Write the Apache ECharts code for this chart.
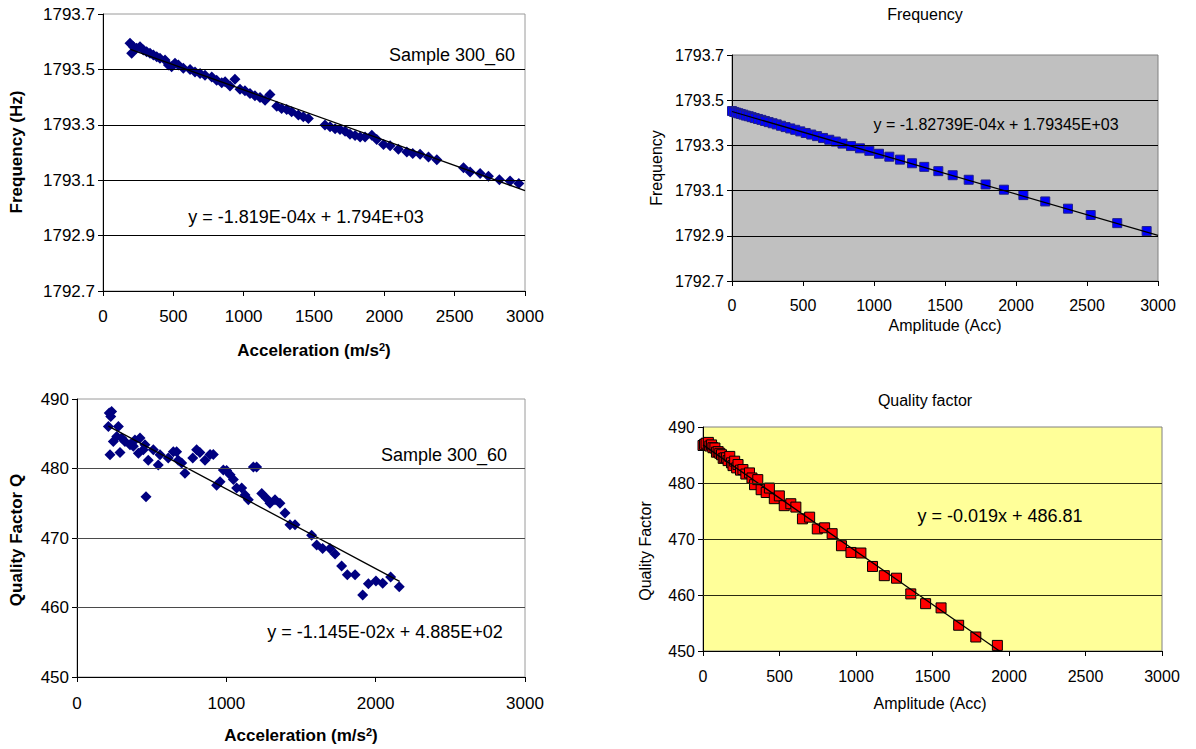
<!DOCTYPE html>
<html><head><meta charset="utf-8">
<script src="https://cdn.jsdelivr.net/npm/echarts@6/dist/echarts.min.js"></script>
<style>html,body{margin:0;padding:0;background:#fff}#c{width:1196px;height:749px}</style>
</head><body><div id="c"></div><script>
// ---------- Data ----------
// Panel 1: Frequency vs acceleration (Sample 300_60)
const p1X = [192,204,216,239,263,287,310,334,358,382,405,441,465,488,512,536,571,619,654,690,725,773,808,844,868,903,938,974,1009,1045,1080,1116,1152,1187,1235,1270,1306,1341,1389,1424,1460,1578,1614,1650,1685,1721,1756,1792,1828,1863,1911,1946,1994,2041,2100,2160,2202,2254,2314,2373,2563,2610,2681,2740,2818,2894,2956];
const p1Y = [1793.594,1793.558,1793.582,1793.576,1793.582,1793.570,1793.564,1793.558,1793.552,1793.546,1793.540,1793.534,1793.516,1793.510,1793.522,1793.516,1793.504,1793.500,1793.491,1793.485,1793.479,1793.473,1793.461,1793.452,1793.455,1793.440,1793.464,1793.428,1793.423,1793.413,1793.405,1793.399,1793.389,1793.409,1793.367,1793.359,1793.355,1793.347,1793.335,1793.329,1793.323,1793.299,1793.293,1793.286,1793.283,1793.277,1793.266,1793.261,1793.256,1793.256,1793.262,1793.247,1793.229,1793.224,1793.212,1793.202,1793.196,1793.194,1793.184,1793.174,1793.145,1793.130,1793.124,1793.114,1793.102,1793.097,1793.088];
const p1Trend = {slope: -1.819e-4, intercept: 1793.608, from: 195, to: 3000};

// Panel 2: Frequency vs amplitude (model)
const p2X = [0,15,30,46,62,80,98,118,138,160,183,207,232,258,286,315,345,377,410,445,481,519,558,599,641,685,731,778,838,901,967,1035,1108,1183,1268,1354,1453,1554,1667,1786,1915,2052,2206,2366,2526,2713,2920];
const p2Y = [1793.452,1793.448,1793.445,1793.442,1793.439,1793.436,1793.432,1793.429,1793.425,1793.421,1793.417,1793.413,1793.408,1793.403,1793.398,1793.393,1793.387,1793.381,1793.375,1793.369,1793.362,1793.355,1793.348,1793.341,1793.333,1793.325,1793.317,1793.308,1793.297,1793.287,1793.276,1793.263,1793.250,1793.237,1793.221,1793.205,1793.186,1793.168,1793.148,1793.127,1793.104,1793.080,1793.052,1793.020,1792.992,1792.956,1792.921];
const p2Trend = {slope: -1.82739e-4, intercept: 1793.45, from: 0, to: 3000};

// Panel 3: Quality factor vs acceleration (Sample 300_60)
const p3X = [210,216,221,226,232,243,266,277,288,299,321,355,377,388,411,422,444,455,462,477,511,544,556,611,645,667,678,701,723,775,801,823,857,891,913,935,958,980,1002,1025,1047,1069,1103,1125,1147,1181,1203,1237,1270,1292,1326,1359,1393,1426,1460,1571,1605,1645,1694,1728,1772,1810,1862,1913,1951,2002,2047,2100,2158];
const p3Y = [486.05,487.98,481.97,487.5,488.2,483.9,484.6,486.05,482.3,484.4,483.9,483.4,483.2,484.1,482.2,484.4,482.7,483.4,475.95,481.2,482.7,480.5,481.97,481.5,482.4,482.4,481.2,480.8,479.3,481.5,482.7,482.3,481.2,482.0,482.0,477.6,478.1,479.8,479.7,479.1,478.4,477.2,477.2,476.2,475.5,480.2,480.2,476.4,475.7,475.0,475.5,475.0,473.6,471.9,471.9,470.4,469.0,468.5,468.5,467.7,465.96,464.7,464.7,461.8,463.4,463.8,463.5,464.4,463.0];
const p3Trend = {slope: -1.145e-2, intercept: 488.5, from: 210, to: 2160};

// Panel 4: Quality factor vs amplitude (model)
const p4X = [0,10,20,35,45,56,65,78,88,99,110,121,132,143,154,164,175,186,196,207,220,229,245,261,280,304,320,337,358,380,413,434,466,499,531,574,607,650,697,747,795,844,905,967,1032,1108,1185,1265,1358,1455,1556,1671,1783,1924];
const p4Y = [486.7,486.9,487.1,487.25,486.6,486.8,486.3,486.25,485.5,485.6,485.3,485.05,484.4,484.5,484.5,484.0,484.75,483.6,483.1,483.9,482.7,483.3,482.3,482.4,481.6,481.8,480.9,479.7,480.6,478.8,478.3,479.1,477.2,477.7,475.95,476.3,475.7,473.6,473.9,471.8,472.0,470.95,468.8,467.6,467.5,465.1,463.45,463.0,460.2,458.45,457.7,454.6,452.5,451.0];
const p4Trend = {slope: -0.019, intercept: 486.81, from: 0, to: 1940};

// Tick labels / grid values
const freqTicks = [1792.7, 1792.9, 1793.1, 1793.3, 1793.5, 1793.7];
const freqGrid = [1792.9, 1793.1, 1793.3, 1793.5];
const qGrid = [460, 470, 480];

// Texts
const sampleLabel = 'Sample 300_60';
const eq1 = 'y = -1.819E-04x + 1.794E+03';
const eq2 = 'y = -1.82739E-04x + 1.79345E+03';
const eq3 = 'y = -1.145E-02x + 4.885E+02';
const eq4 = 'y = -0.019x + 486.81';

// ---------- Helpers ----------
const FF = '"Liberation Sans", Arial, sans-serif';
const zip = (a, b) => a.map((v, i) => [v, b[i]]);
const trendData = t => [[t.from, t.intercept + t.slope * t.from], [t.to, t.intercept + t.slope * t.to]];

function xAxisCfg(idx, interval, fs, margin) {
  return {
    type: 'value', gridIndex: idx, min: 0, max: 3000, interval: interval,
    axisLine: {show: true, onZero: false, lineStyle: {color: '#000', width: 1}},
    axisTick: {show: true, inside: false, length: 5, lineStyle: {color: '#000'}},
    axisLabel: {color: '#000', fontFamily: FF, fontSize: fs, margin: margin, formatter: v => String(v)},
    splitLine: {show: false}
  };
}
function yFreqCfg(idx, fs) {
  return {
    type: 'value', gridIndex: idx, min: 1792.7, max: 1793.7,
    axisLine: {show: true, onZero: false, lineStyle: {color: '#000', width: 1}},
    axisTick: {show: true, length: 5, customValues: freqTicks, lineStyle: {color: '#000'}},
    axisLabel: {color: '#000', fontFamily: FF, fontSize: fs, margin: 8, customValues: freqTicks,
                formatter: v => Number(v).toFixed(1)},
    splitLine: {show: false}
  };
}
function yQCfg(idx, fs) {
  return {
    type: 'value', gridIndex: idx, min: 450, max: 490, interval: 10,
    axisLine: {show: true, onZero: false, lineStyle: {color: '#000', width: 1}},
    axisTick: {show: true, length: 5, lineStyle: {color: '#000'}},
    axisLabel: {color: '#000', fontFamily: FF, fontSize: fs, margin: 8},
    splitLine: {show: false}
  };
}
function gridSeries(idx, values, color) {
  return {
    type: 'line', xAxisIndex: idx, yAxisIndex: idx, data: [], z: 1, silent: true,
    markLine: {silent: true, symbol: ['none', 'none'], label: {show: false}, animation: false,
      lineStyle: {color: color, width: 1, type: 'solid'},
      emphasis: {disabled: true},
      data: values.map(v => ({yAxis: v}))}
  };
}
function trendSeries(idx, t) {
  return {type: 'line', xAxisIndex: idx, yAxisIndex: idx, data: trendData(t), z: 4,
    symbol: 'none', silent: true, lineStyle: {color: '#000', width: 1.3}, clip: true};
}
function txt(text, x, y, font, align, rot) {
  return {type: 'text', x: x, y: y, rotation: rot || 0, z: 10,
    style: {text: text, font: font, fill: '#000', align: align || 'center', verticalAlign: 'middle'}};
}
function accTitle(x, y) {
  return {type: 'text', x: x, y: y, z: 10, style: {text: '{a|Acceleration (m/s}{s|2}{a|)}', align: 'center', verticalAlign: 'middle',
    rich: {a: {font: 'bold 17px ' + FF, fill: '#000'}, s: {font: 'bold 11px ' + FF, fill: '#000', verticalAlign: 'top'}}}};
}

const chart = echarts.init(document.getElementById('c'), null, {renderer: 'svg'});
chart.setOption({
  animation: false,
  backgroundColor: '#ffffff',
  grid: [
    {left: 103, top: 14, width: 422, height: 277, show: true, borderColor: '#9a9a9a', borderWidth: 1, backgroundColor: '#ffffff', outerBoundsMode: 'none'},
    {left: 732, top: 55, width: 426, height: 226, show: true, borderColor: '#808080', borderWidth: 1, backgroundColor: '#c0c0c0', outerBoundsMode: 'none'},
    {left: 77, top: 399, width: 448, height: 278, show: true, borderColor: '#9a9a9a', borderWidth: 1, backgroundColor: '#ffffff', outerBoundsMode: 'none'},
    {left: 703, top: 427, width: 459, height: 224, show: true, borderColor: '#808080', borderWidth: 1, backgroundColor: '#ffff99', outerBoundsMode: 'none'}
  ],
  xAxis: [xAxisCfg(0, 500, 17, 17), xAxisCfg(1, 500, 16, 16), xAxisCfg(2, 1000, 17, 18), xAxisCfg(3, 500, 16, 17)],
  yAxis: [yFreqCfg(0, 17), yFreqCfg(1, 16), yQCfg(2, 17), yQCfg(3, 16)],
  series: [
    gridSeries(0, freqGrid, '#000000'),
    gridSeries(1, freqGrid, '#000000'),
    gridSeries(2, qGrid, '#4a4a4a'),
    gridSeries(3, qGrid, '#2a2a10'),
    {type: 'scatter', xAxisIndex: 0, yAxisIndex: 0, data: zip(p1X, p1Y), symbol: 'diamond', symbolSize: 11, z: 3,
      itemStyle: {color: '#000080', opacity: 1}},
    {type: 'scatter', xAxisIndex: 1, yAxisIndex: 1, data: zip(p2X, p2Y), symbol: 'rect', symbolSize: 9, z: 3,
      itemStyle: {color: '#0000ff', borderColor: '#20208a', borderWidth: 1, opacity: 1}},
    {type: 'scatter', xAxisIndex: 2, yAxisIndex: 2, data: zip(p3X, p3Y), symbol: 'diamond', symbolSize: 11, z: 3,
      itemStyle: {color: '#000080', opacity: 1}},
    {type: 'scatter', xAxisIndex: 3, yAxisIndex: 3, data: zip(p4X, p4Y), symbol: 'rect', symbolSize: 10, z: 3,
      itemStyle: {color: '#ff0000', borderColor: '#000000', borderWidth: 1, opacity: 1}},
    trendSeries(0, p1Trend),
    trendSeries(1, p2Trend),
    trendSeries(2, p3Trend),
    trendSeries(3, p4Trend)
  ],
  graphic: [
    txt(sampleLabel, 515, 55, '18px ' + FF, 'right'),
    txt(eq1, 306, 217, '18px ' + FF),
    txt(eq2, 996, 124, '16px ' + FF),
    txt(sampleLabel, 507, 455, '18px ' + FF, 'right'),
    txt(eq3, 385, 632, '18px ' + FF),
    txt(eq4, 1000, 516, '18px ' + FF),
    txt('Frequency', 925, 14, '16px ' + FF),
    txt('Quality factor', 925, 400, '16px ' + FF),
    txt('Frequency (Hz)', 16, 152, 'bold 17px ' + FF, 'center', Math.PI / 2),
    txt('Quality Factor Q', 16, 540, 'bold 17px ' + FF, 'center', Math.PI / 2),
    txt('Frequency', 656, 168, '16px ' + FF, 'center', Math.PI / 2),
    txt('Quality Factor', 645, 551, '16px ' + FF, 'center', Math.PI / 2),
    txt('Amplitude (Acc)', 945, 325, '16px ' + FF),
    txt('Amplitude (Acc)', 930, 703, '16px ' + FF),
    accTitle(314, 350),
    accTitle(301, 735)
  ]
});
</script></body></html>
